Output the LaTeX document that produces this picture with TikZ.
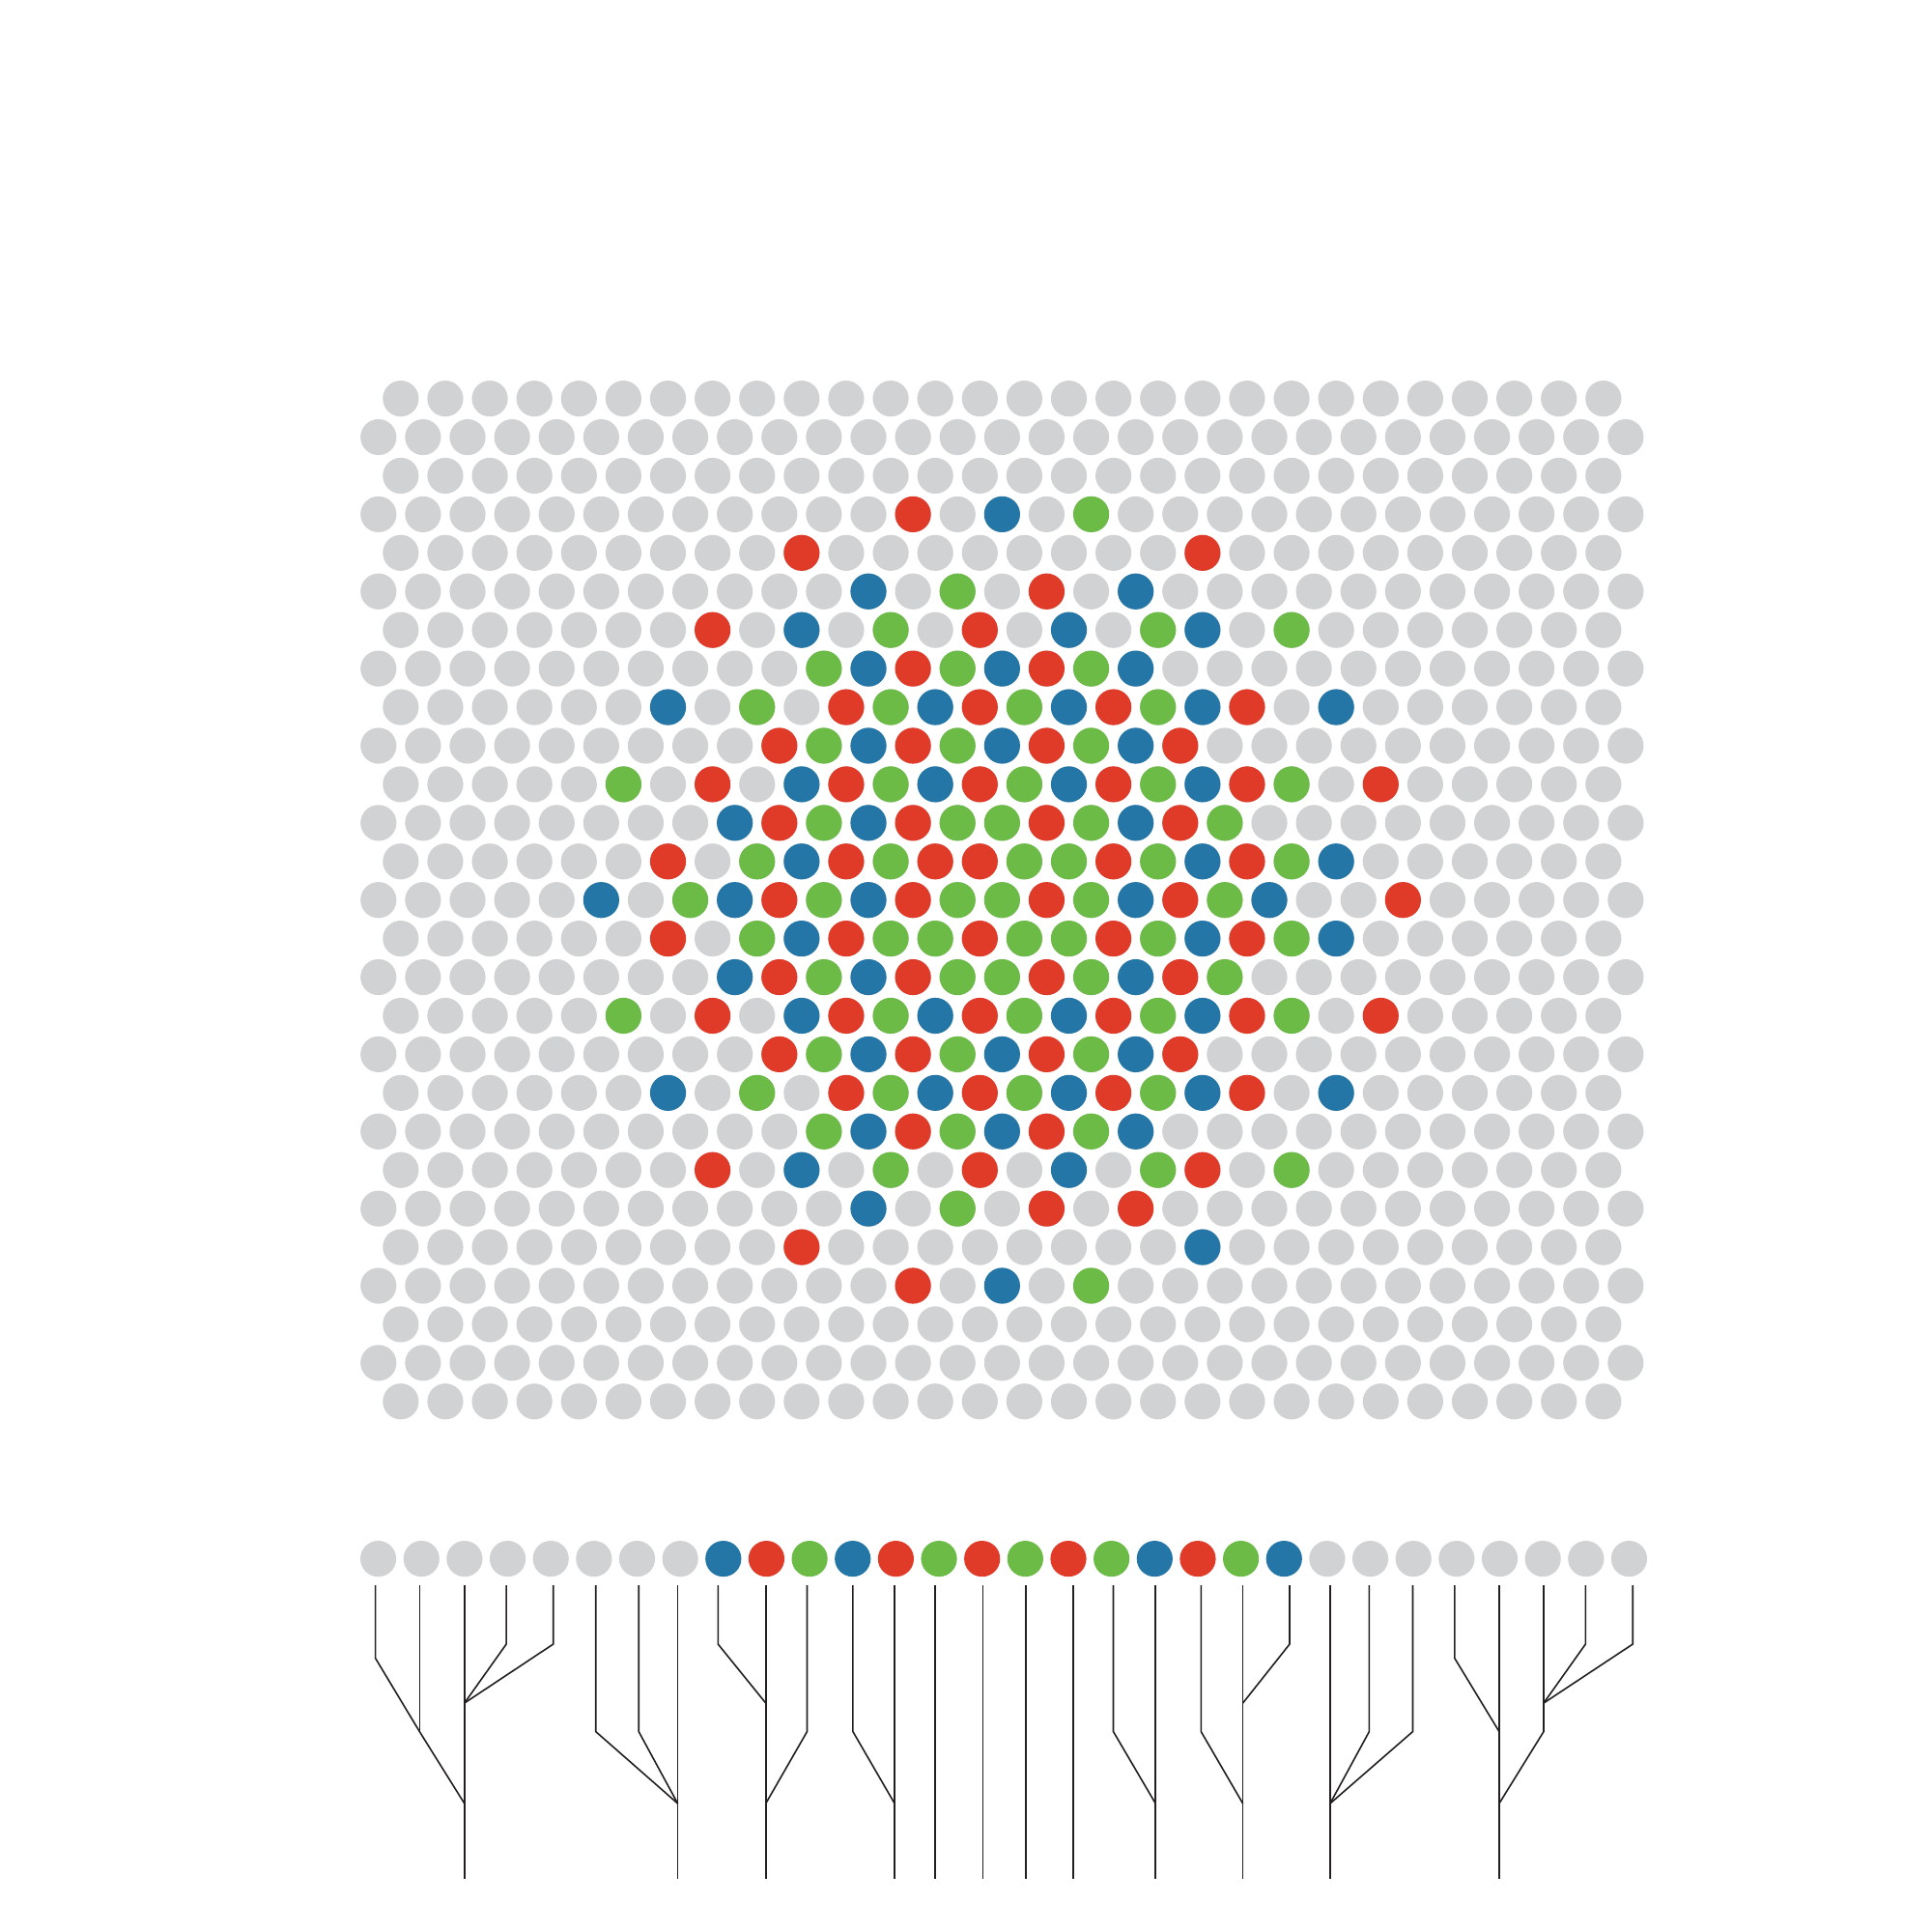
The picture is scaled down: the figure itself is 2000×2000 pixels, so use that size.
\documentclass[tikz,border=0pt]{standalone}
\definecolor{cgray}{HTML}{D1D2D4}
\definecolor{cR}{HTML}{E03A28}
\definecolor{cB}{HTML}{2376A6}
\definecolor{cG}{HTML}{6BBB46}
\definecolor{tline}{HTML}{231F20}
\begin{document}
\begin{tikzpicture}[x=1pt,y=-1pt,
  dot/.style={circle,inner sep=0pt,minimum size=37.2pt,fill=#1},
  branch/.style={draw=tline,line width=1.6pt}]
\useasboundingbox (0,0) rectangle (2000,2000);
\fill[white] (0,0) rectangle (2000,2000);
% hexagonal grid of grey dots
\foreach \row in {0,...,26}{
  \pgfmathtruncatemacro{\rp}{mod(\row,2)}
  \ifnum\rp=0 \def\kstart{1}\def\knext{3}\def\kend{55}\else \def\kstart{0}\def\knext{2}\def\kend{56}\fi
  \foreach \k in {\kstart,\knext,...,\kend}
    \fill[cgray] ({391.8+23.055*\k},{412.6+39.93*\row}) circle[radius=18.6pt];
}
% coloured dots
\foreach \row/\lst in {
  3/{24/R,28/B,32/G},
  4/{19/R,37/R},
  5/{22/B,26/G,30/R,34/B},
  6/{15/R,19/B,23/G,27/R,31/B,35/G,37/B,41/G},
  7/{20/G,22/B,24/R,26/G,28/B,30/R,32/G,34/B},
  8/{13/B,17/G,21/R,23/G,25/B,27/R,29/G,31/B,33/R,35/G,37/B,39/R,43/B},
  9/{18/R,20/G,22/B,24/R,26/G,28/B,30/R,32/G,34/B,36/R},
  10/{11/G,15/R,19/B,21/R,23/G,25/B,27/R,29/G,31/B,33/R,35/G,37/B,39/R,41/G,45/R},
  11/{16/B,18/R,20/G,22/B,24/R,26/G,28/G,30/R,32/G,34/B,36/R,38/G},
  12/{13/R,17/G,19/B,21/R,23/G,25/R,27/R,29/G,31/G,33/R,35/G,37/B,39/R,41/G,43/B},
  13/{10/B,14/G,16/B,18/R,20/G,22/B,24/R,26/G,28/G,30/R,32/G,34/B,36/R,38/G,40/B,46/R},
  14/{13/R,17/G,19/B,21/R,23/G,25/G,27/R,29/G,31/G,33/R,35/G,37/B,39/R,41/G,43/B},
  15/{16/B,18/R,20/G,22/B,24/R,26/G,28/G,30/R,32/G,34/B,36/R,38/G},
  16/{11/G,15/R,19/B,21/R,23/G,25/B,27/R,29/G,31/B,33/R,35/G,37/B,39/R,41/G,45/R},
  17/{18/R,20/G,22/B,24/R,26/G,28/B,30/R,32/G,34/B,36/R},
  18/{13/B,17/G,21/R,23/G,25/B,27/R,29/G,31/B,33/R,35/G,37/B,39/R,43/B},
  19/{20/G,22/B,24/R,26/G,28/B,30/R,32/G,34/B},
  20/{15/R,19/B,23/G,27/R,31/B,35/G,37/R,41/G},
  21/{22/B,26/G,30/R,34/R},
  22/{19/R,37/B},
  23/{24/R,28/B,32/G}}{
  \foreach \k/\col in \lst
    \fill[c\col] ({391.8+23.055*\k},{412.6+39.93*\row}) circle[radius=18.6pt];
}
% row of leaf dots
\foreach \i/\col in {0/cgray,1/cgray,2/cgray,3/cgray,4/cgray,5/cgray,6/cgray,7/cgray,
  8/cB,9/cR,10/cG,11/cB,12/cR,13/cG,14/cR,15/cG,16/cR,17/cG,18/cB,19/cR,20/cG,21/cB,
  22/cgray,23/cgray,24/cgray,25/cgray,26/cgray,27/cgray,28/cgray,29/cgray}
  \node[dot=\col] (d\i) at ({391.6+44.65*\i},1613.6) {};
% tree
\foreach \i/\x in {0/388.6,1/434.3,2/480.8,3/524.1,4/572.7,5/616.7,6/661.2,7/701.6,
  8/743.3,9/792.7,10/835.5,11/882.9,12/926.1,13/967.8,14/1017.5,15/1062.2,16/1111.0,
  17/1152.5,18/1196.2,19/1243.3,20/1286.6,21/1335.0,22/1376.9,23/1417.4,24/1462.5,
  25/1505.8,26/1551.9,27/1598.0,28/1641.3,29/1690.2}
  \coordinate (t\i) at (\x,1641);
\coordinate (la) at (0,1702);
\coordinate (lb) at (0,1716.5);
\coordinate (lc) at (0,1763);
\coordinate (ld) at (0,1792.5);
\coordinate (le) at (0,1867);
\coordinate (lz) at (0,1945);
% group 1
\draw[branch] (t0) -- (t0|-lb) -- (t1|-ld) -- (t2|-le);
\draw[branch] (t1) -- (t1|-ld);
\draw[branch] (t2) -- (t2|-lz);
\draw[branch] (t3) -- (t3|-la) -- (t2|-lc);
\draw[branch] (t4) -- (t4|-la) -- (t2|-lc);
% group 2
\draw[branch] (t5) -- (t5|-ld) -- (t7|-le);
\draw[branch] (t6) -- (t6|-ld) -- (t7|-le);
\draw[branch] (t7) -- (t7|-lz);
% group 3
\draw[branch] (t8) -- (t8|-la) -- (t9|-lc);
\draw[branch] (t9) -- (t9|-lz);
\draw[branch] (t10) -- (t10|-ld) -- (t9|-le);
% group 4
\draw[branch] (t11) -- (t11|-ld) -- (t12|-le);
\draw[branch] (t12) -- (t12|-lz);
% singles
\draw[branch] (t13) -- (t13|-lz);
\draw[branch] (t14) -- (t14|-lz);
\draw[branch] (t15) -- (t15|-lz);
\draw[branch] (t16) -- (t16|-lz);
% group 5
\draw[branch] (t17) -- (t17|-ld) -- (t18|-le);
\draw[branch] (t18) -- (t18|-lz);
% group 6
\draw[branch] (t19) -- (t19|-ld) -- (t20|-le);
\draw[branch] (t20) -- (t20|-lz);
\draw[branch] (t21) -- (t21|-la) -- (t20|-lc);
% group 7
\draw[branch] (t22) -- (t22|-lz);
\draw[branch] (t23) -- (t23|-ld) -- (t22|-le);
\draw[branch] (t24) -- (t24|-ld) -- (t22|-le);
% group 8
\draw[branch] (t25) -- (t25|-lb) -- (t26|-ld);
\draw[branch] (t26) -- (t26|-lz);
\draw[branch] (t27) -- (t27|-ld) -- (t26|-le);
\draw[branch] (t28) -- (t28|-la) -- (t27|-lc);
\draw[branch] (t29) -- (t29|-la) -- (t27|-lc);
\end{tikzpicture}
\end{document}
